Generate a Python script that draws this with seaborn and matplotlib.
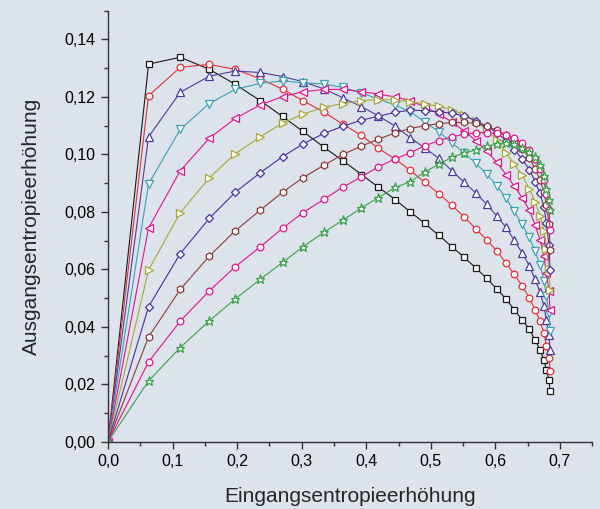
import matplotlib
matplotlib.use("Agg")
import matplotlib.pyplot as plt
import seaborn as sns
import pandas as pd
from matplotlib.ticker import MultipleLocator, FuncFormatter

# common x grid (Eingangsentropieerhöhung)
x = [0, 0.0628, 0.1119, 0.1568, 0.1970, 0.2357, 0.2703, 0.3019, 0.3344, 0.3638,
     0.3926, 0.4188, 0.4448, 0.4683, 0.4907, 0.5126, 0.5327, 0.5516, 0.5697, 0.5864,
     0.6024, 0.6166, 0.6290, 0.6414, 0.6527, 0.6615, 0.6692, 0.6754, 0.6790, 0.6832, 0.6847]

y_black = [0, .1314, .1338, .1296, .1244, .1187, .1132, .1080, .1025, .0978, .0930, .0886, .0843,
           .0800, .0760, .0718, .0679, .0642, .0605, .0569, .0532, .0497, .0460, .0425, .0391,
           .0355, .0320, .0284, .0249, .0214, .0177]
y_red = [0, .1204, .1303, .1313, .1296, .1263, .1227, .1187, .1147, .1105, .1066, .1021, .0984,
         .0944, .0903, .0863, .0823, .0783, .0741, .0703, .0664, .0622, .0583, .0543, .0501,
         .0459, .0420, .0377, .0334, .0292, .0247]
y_tri_up = [0, .1061, .1216, .1272, .1290, .1285, .1271, .1253, .1228, .1197, .1166, .1134, .1098,
            .1058, .1022, .0986, .0943, .0903, .0866, .0827, .0785, .0746, .0702, .0658, .0612,
            .0565, .0520, .0472, .0423, .0371, .0319]
y_tri_down = [0, .0897, .1087, .1177, .1226, .1247, .1256, .1249, .1245, .1233, .1214, .1192, .1172,
              .1148, .1113, .1079, .1040, .1006, .0969, .0932, .0891, .0847, .0803, .0757, .0711,
              .0663, .0614, .0560, .0508, .0447, .0386]
y_tri_left = [0, .0744, .0943, .1056, .1125, .1172, .1201, .1218, .1226, .1226, .1218, .1210, .1200,
              .1187, .1165, .1140, .1113, .1082, .1048, .1012, .0972, .0930, .0890, .0850, .0806,
              .0754, .0702, .0646, .0586, .0525, .0458]
y_tri_right = [0, .0598, .0797, .0918, .1002, .1061, .1109, .1140, .1164, .1177, .1187, .1191, .1189,
               .1183, .1176, .1167, .1155, .1138, .1115, .1087, .1050, .1005, .0966, .0928, .0880,
               .0835, .0786, .0734, .0672, .0600, .0528]
y_diamond = [0, .0470, .0655, .0777, .0868, .0936, .0992, .1036, .1073, .1098, .1119, .1133, .1146,
             .1154, .1152, .1148, .1143, .1134, .1117, .1098, .1075, .1048, .1017, .0984, .0947,
             .0905, .0864, .0816, .0760, .0684, .0597]
y_hexagon = [0, .0365, .0530, .0646, .0734, .0806, .0868, .0919, .0962, .1000, .1029, .1053, .1075,
             .1090, .1100, .1107, .1111, .1111, .1108, .1098, .1084, .1067, .1046, .1020, .0988,
             .0950, .0911, .0870, .0824, .0758, .0667]
y_circle2 = [0, .0278, .0420, .0525, .0609, .0678, .0743, .0797, .0844, .0886, .0922, .0957, .0984,
             .1006, .1030, .1048, .1061, .1070, .1075, .1076, .1074, .1068, .1057, .1040, .1015,
             .0985, .0950, .0910, .0862, .0805, .0736]
y_star = [0, .0212, .0328, .0421, .0497, .0565, .0624, .0678, .0729, .0771, .0814, .0850, .0885,
          .0905, .0939, .0966, .0990, .1005, .1016, .1029, .1035, .1038, .1035, .1021, .1009,
          .0990, .0962, .0925, .0880, .0840, .0806]

series = [
    ("s1", y_black, "#1a1a1a", "s", 4.3),
    ("s2", y_red, "#e0303c", "o", 4.8),
    ("s3", y_tri_up, "#4b3c9c", "^", 5.3),
    ("s4", y_tri_down, "#3ba2b0", "v", 5.3),
    ("s5", y_tri_left, "#e0148c", "<", 5.3),
    ("s6", y_tri_right, "#a8a83a", ">", 5.3),
    ("s7", y_diamond, "#4830a0", "D", 4.0),
    ("s8", y_hexagon, "#8b3c3c", "h", 5.2),
    ("s9", y_circle2, "#e0148c", "o", 4.8),
    ("s10", y_star, "#3aa04a", "*", 6.5),
]

bg = "#dce3ea"
sns.set_style("ticks")
plt.rcParams["font.family"] = ["Liberation Sans", "DejaVu Sans"]

fig = plt.figure(figsize=(6.0, 5.09), dpi=100, facecolor=bg)
ax = fig.add_axes([0.18, 0.132, 0.807, 0.847])
ax.set_facecolor(bg)

for name, ys, col, mk, ms in series:
    df = pd.DataFrame({"x": x, "y": ys})
    sns.lineplot(data=df, x="x", y="y", ax=ax, color=col, linewidth=0.8,
                 marker=mk, markersize=ms, markerfacecolor="white",
                 markeredgecolor=col, markeredgewidth=0.9, sort=False,
                 estimator=None, legend=False)

ax.set_xlim(0, 0.75)
ax.set_ylim(0, 0.15)
ax.xaxis.set_major_locator(MultipleLocator(0.1))
ax.xaxis.set_minor_locator(MultipleLocator(0.05))
ax.yaxis.set_major_locator(MultipleLocator(0.02))
ax.yaxis.set_minor_locator(MultipleLocator(0.01))
ax.xaxis.set_major_formatter(FuncFormatter(lambda v, p: f"{v:.1f}".replace(".", ",")))
ax.yaxis.set_major_formatter(FuncFormatter(lambda v, p: f"{v:.2f}".replace(".", ",")))

for s in ["top", "right"]:
    ax.spines[s].set_visible(False)
for s in ["left", "bottom"]:
    ax.spines[s].set_color("#333333")
    ax.spines[s].set_linewidth(1.0)

ax.tick_params(axis="both", which="major", length=5, width=1.0, color="#333333",
               labelsize=11.5, pad=4, labelcolor="black")
ax.tick_params(axis="both", which="minor", length=3, width=1.0, color="#333333")

ax.set_xlabel("Eingangsentropieerhöhung", fontsize=15, labelpad=13)
ax.set_ylabel("Ausgangsentropieerhöhung", fontsize=15, labelpad=17)

fig.savefig("out.png", dpi=100, facecolor=bg)
